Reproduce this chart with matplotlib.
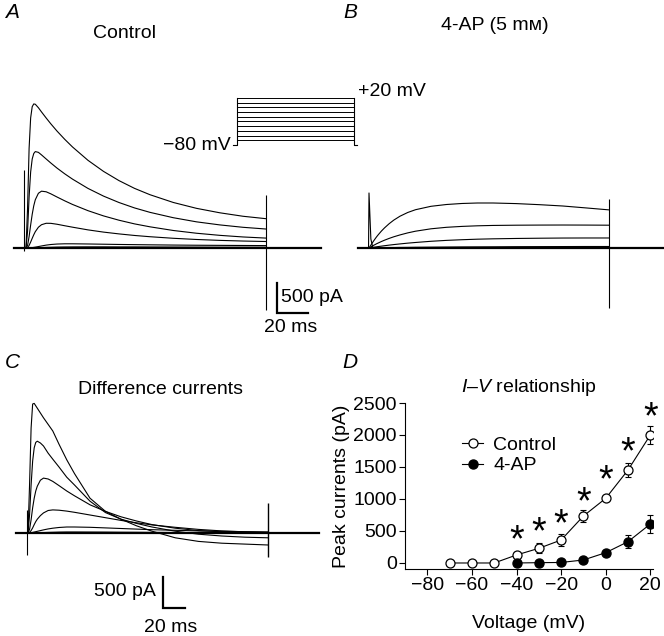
import matplotlib
matplotlib.use("Agg")
import matplotlib.pyplot as plt

plt.rcParams['font.family'] = ['Liberation Sans', 'DejaVu Sans']
plt.rcParams['mathtext.fontset'] = 'custom'
plt.rcParams['mathtext.it'] = 'Liberation Sans:italic'
plt.rcParams['mathtext.rm'] = 'Liberation Sans'

# ---------------- data ----------------
t_step = [0, 1, 2, 3, 4, 5, 6, 8, 10, 13, 16, 20, 25, 30, 40, 50, 60, 70, 80, 95, 110, 125, 140, 155]
step_ms = 155

# A: control currents (pA), steps +20, +10, 0, -10, -20, -30 mV
ctl_p20 = [0, 657, 1661, 2169, 2355, 2401, 2396, 2338, 2268, 2167, 2070, 1949, 1811, 1684, 1461, 1277, 1123, 994, 888, 759, 661, 587, 529, 488]
ctl_p10 = [0, 278, 853, 1267, 1483, 1575, 1607, 1594, 1552, 1484, 1417, 1332, 1236, 1148, 993, 865, 758, 668, 594, 505, 436, 385, 345, 316]
ctl_0 = [0, 42, 191, 383, 561, 703, 804, 912, 947, 937, 903, 850, 786, 726, 622, 535, 463, 402, 353, 292, 246, 211, 184, 165]
ctl_m10 = [0, 8, 43, 99, 161, 220, 272, 346, 388, 412, 411, 396, 371, 347, 302, 265, 235, 209, 188, 162, 142, 127, 116, 108]
ctl_m20 = [0, 0, 1, 3, 6, 10, 14, 24, 34, 48, 58, 66, 70, 70, 67, 63, 59, 56, 53, 49, 46, 44, 42, 40]
ctl_m30 = [0, 0, 0, 1, 1, 2, 3, 5, 7, 10, 12, 15, 17, 18, 19, 19, 18, 18, 17, 16, 15, 14, 14, 13]

# B: 4-AP currents (pA)
ap_p20 = [0, 40, 80, 118, 155, 190, 222, 282, 335, 405, 465, 530, 592, 638, 695, 725, 742, 750, 750, 740, 722, 700, 668, 635]
ap_p10 = [0, 15, 30, 45, 58, 72, 84, 108, 130, 160, 187, 218, 252, 280, 320, 345, 360, 370, 376, 380, 382, 383, 382, 380]
ap_0 = [0, 4, 8, 12, 16, 20, 24, 31, 38, 48, 57, 68, 81, 92, 112, 127, 138, 147, 153, 159, 163, 166, 167, 167]
ap_m10 = [0, 0, 1, 1, 2, 2, 3, 4, 5, 6, 7, 9, 10, 12, 14, 16, 18, 19, 20, 22, 23, 24, 25, 25]
ap_m20 = [0, 0, 0, 0, 0, 1, 1, 1, 1, 2, 2, 3, 3, 4, 5, 6, 6, 7, 7, 8, 8, 8, 9, 9]

# C: difference currents (pA)
dif_p20 = [0, 800, 1750, 2150, 2160, 2120, 2080, 2000, 1920, 1810, 1700, 1480, 1220, 990, 580, 360, 230, 120, 30, -80, -140, -170, -185, -200]
dif_p10 = [0, 300, 800, 1200, 1420, 1510, 1530, 1500, 1450, 1330, 1230, 1100, 930, 800, 530, 340, 230, 160, 100, 30, -20, -50, -70, -80]
dif_0 = [0, 60, 220, 420, 580, 700, 780, 880, 915, 900, 860, 790, 700, 620, 470, 360, 270, 200, 140, 80, 40, 20, 5, 0]
dif_m10 = [0, 10, 40, 85, 140, 190, 230, 290, 335, 375, 385, 380, 365, 345, 300, 255, 210, 170, 135, 95, 60, 35, 20, 10]
dif_m20 = [0, 2, 5, 10, 16, 22, 28, 40, 52, 68, 80, 92, 100, 100, 95, 85, 75, 65, 55, 45, 35, 28, 22, 18]
dif_m30 = [0, 0, 0, 1, 1, 2, 3, 5, 7, 10, 12, 15, 17, 17, 16, 15, 13, 12, 10, 8, 6, 5, 4, 3]

# capacitive / tail artifacts (time ms, low pA, high pA)
art_A_on = (-1.3, -50, 1300)
art_A_off = (155, -1033, 883)
art_B_on = (0, 0, 917)
art_B_off = (155, -1000, 817)
art_C_on = (-0.6, -367, 383)
art_C_off = (155, -400, 500)

# voltage protocol
step_mV = [-70, -60, -50, -40, -30, -20, -10, 0, 10, 20]
hold_mV = -80

# D: I-V relationship
volt_ctl = [-70, -60, -50, -40, -30, -20, -10, 0, 10, 20]
peak_ctl = [0, 0, 0, 125, 229, 359, 734, 1010, 1453, 2000]
err_ctl = [15, 15, 15, 30, 78, 90, 90, 30, 117, 140]
volt_ap = [-40, -30, -20, -10, 0, 10, 20]
peak_ap = [0, 5, 8, 47, 161, 333, 609]
err_ap = [10, 10, 10, 20, 30, 104, 140]
star_volt = [-40, -30, -20, -10, 0, 10, 20]
star_y = [333, 464, 594, 932, 1270, 1714, 2261]

# ---------------- layout helpers ----------------
W, H = 664, 636
fig = plt.figure(figsize=(W / 100, H / 100), dpi=100)

PX_MS = 1.55      # pixels per ms
PX_PA = 0.06      # pixels per pA


def trace_axes(x0, x1, y0, y1, t0_px, base_px):
    ax = fig.add_axes([x0 / W, 1 - y1 / H, (x1 - x0) / W, (y1 - y0) / H])
    ax.set_xlim((x0 - t0_px) / PX_MS, (x1 - t0_px) / PX_MS)
    ax.set_ylim(-(y1 - base_px) / PX_PA, (base_px - y0) / PX_PA)
    ax.axis('off')
    return ax


def ftext(x, y, s, **kw):
    fig.text(x / W, 1 - y / H, s, **kw)


TR = dict(color='black', lw=0.8)

# ---------------- panel A ----------------
axA = trace_axes(0, 330, 55, 345, 26, 248)
axA.plot([-8, 190], [0, 0], color='black', lw=1.6)
for tr in [ctl_m30, ctl_m20, ctl_m10, ctl_0, ctl_p10, ctl_p20]:
    axA.plot(t_step, tr, **TR)
axA.vlines(art_A_on[0], art_A_on[1], art_A_on[2], color='black', lw=0.8)
axA.vlines(art_A_off[0], art_A_off[1], art_A_off[2], color='black', lw=0.8)
# scale bar
axA.plot([162, 162, 182], [-583, -1083, -1083], color='black', lw=1.6, solid_joinstyle='miter')

# protocol inset
axP = fig.add_axes([225 / W, 1 - 150 / H, 135 / W, 60 / H])
axP.axis('off')
pxms, pxmv = 117 / 155, 0.47
axP.set_xlim((225 - 237) / pxms, (360 - 237) / pxms)
axP.set_ylim(-80 - (150 - 145) / pxmv, 20 + (98 - 90) / pxmv)
for v in step_mV:
    axP.plot([0, step_ms], [v, v], color='black', lw=0.7)
axP.plot([-5, 0, 0], [hold_mV, hold_mV, max(step_mV)], color='black', lw=0.8)
axP.plot([step_ms + 4, step_ms, step_ms], [hold_mV, hold_mV, max(step_mV)], color='black', lw=0.8)

# ---------------- panel B ----------------
axB = trace_axes(343, 664, 55, 345, 369, 248)
axB.plot([-7, 190], [0, 0], color='black', lw=1.6)
for tr in [ap_m20, ap_m10, ap_0, ap_p10, ap_p20]:
    axB.plot(t_step, tr, **TR)
axB.plot([art_B_on[0] - 0.3, art_B_on[0], art_B_on[0] + 1.2, art_B_on[0] + 2.5],
         [0, art_B_on[2], 150, 0], color='black', lw=0.8)
axB.vlines(art_B_off[0], art_B_off[1], art_B_off[2], color='black', lw=0.8)

# ---------------- panel C ----------------
axC = trace_axes(2, 330, 375, 636, 28, 533)
axC.plot([-8, 188], [0, 0], color='black', lw=1.6)
for tr in [dif_m30, dif_m20, dif_m10, dif_0, dif_p10, dif_p20]:
    axC.plot(t_step, tr, **TR)
axC.vlines(art_C_on[0], art_C_on[1], art_C_on[2], color='black', lw=0.8)
axC.vlines(art_C_off[0], art_C_off[1], art_C_off[2], color='black', lw=1.0)
axC.plot([87, 87, 101], [-733, -1250, -1250], color='black', lw=1.6, solid_joinstyle='miter')

# ---------------- panel D ----------------
axD = fig.add_axes([405 / W, 1 - 569 / H, (653 - 405) / W, (569 - 403) / H])
axD.set_xlim(-90, 21.2)
axD.set_ylim(-94, 2500)
for s in ['top', 'right']:
    axD.spines[s].set_visible(False)
for s in ['left', 'bottom']:
    axD.spines[s].set_linewidth(0.8)
axD.set_xticks([-80, -60, -40, -20, 0, 20])
axD.set_xticklabels(['\u221280', '\u221260', '\u221240', '\u221220', '0', '20'])
axD.set_yticks([0, 500, 1000, 1500, 2000, 2500])
axD.tick_params(direction='out', length=4, width=0.8, labelsize=14, pad=2)
axD.errorbar(volt_ctl, peak_ctl, yerr=err_ctl, fmt='none', ecolor='black',
             elinewidth=0.8, capsize=2.5, capthick=0.8, zorder=2)
axD.errorbar(volt_ap, peak_ap, yerr=err_ap, fmt='none', ecolor='black',
             elinewidth=0.8, capsize=2.5, capthick=0.8, zorder=2)
axD.plot(volt_ctl, peak_ctl, '-o', color='black', lw=0.8, ms=6.5, mfc='white',
         mec='black', mew=0.9, label='Control', zorder=3)
axD.plot(volt_ap, peak_ap, '-o', color='black', lw=0.8, ms=6.5, mfc='black',
         mec='black', label='4-AP', zorder=3)
for v, y in zip(star_volt, star_y):
    axD.text(v, y, '*', fontsize=27, ha='center', va='center')
axD.set_xlabel('Voltage (mV)', fontsize=14, labelpad=15)
axD.set_ylabel('Peak currents (pA)', fontsize=14, labelpad=2)
axD.set_title(r'$I$' + '\u2013' + r'$V$' + ' relationship', fontsize=14, pad=8)
leg = axD.legend(loc='upper left', bbox_to_anchor=(0.23, 0.80), frameon=False,
                 fontsize=14, handlelength=1.1, handletextpad=0.5, labelspacing=0.15,
                 borderpad=0, borderaxespad=0)

# ---------------- text ----------------
LET = dict(fontsize=15, style='italic', ha='center', va='center')
ftext(12, 12, 'A', **LET)
ftext(350, 12, 'B', **LET)
ftext(12, 363, 'C', **LET)
ftext(350, 363, 'D', **LET)

TT = dict(fontsize=14, ha='center', va='center')
ftext(124, 33, 'Control', **TT)
ftext(495, 26, '4-AP (5 m\u1d0d)', **TT)
ftext(160, 389, 'Difference currents', **TT)

ftext(358, 91, '+20 mV', fontsize=14, ha='left', va='center')
ftext(231, 145, '\u221280 mV', fontsize=14, ha='right', va='center')

ftext(281, 297, '500 pA', fontsize=14, ha='left', va='center')
ftext(291, 328, '20 ms', fontsize=14, ha='center', va='center')
ftext(156, 591, '500 pA', fontsize=14, ha='right', va='center')
ftext(171, 627, '20 ms', fontsize=14, ha='center', va='center')

fig.savefig('out.png', dpi=100)
